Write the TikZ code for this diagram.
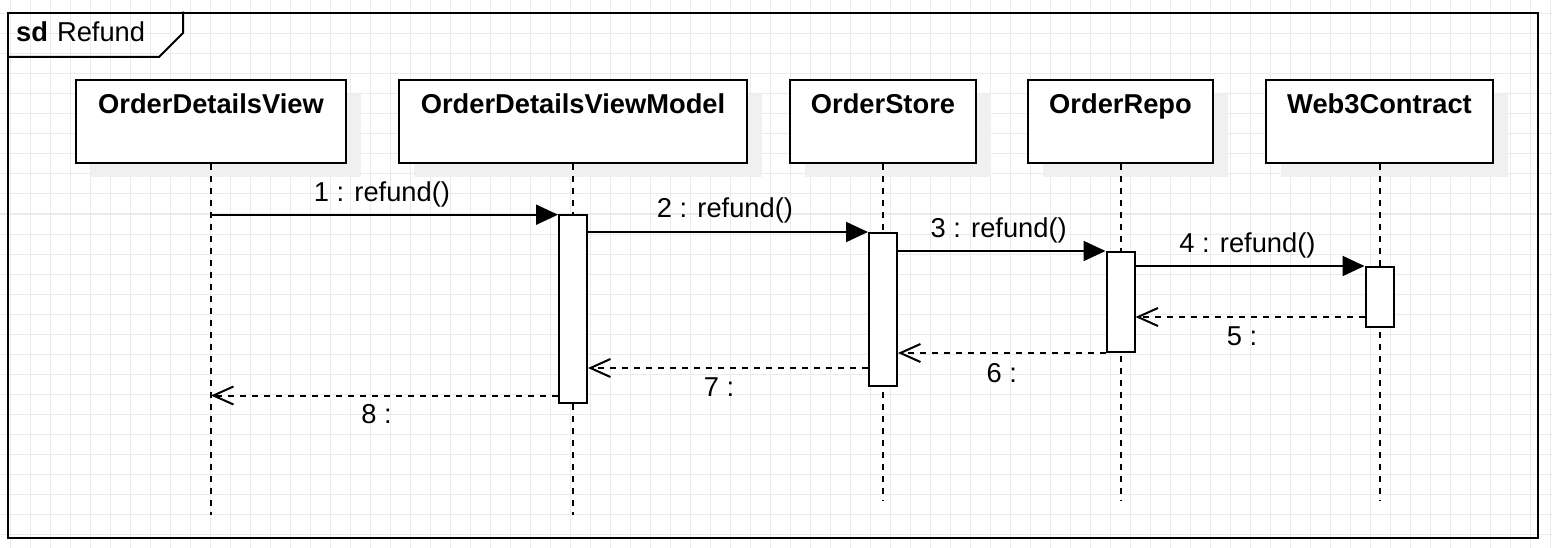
\documentclass[tikz,border=0pt]{standalone}
\usepackage{fontspec}
\setmainfont{Liberation Sans}
\usetikzlibrary{arrows.meta,shadows}
\definecolor{gridgray}{HTML}{EBEBEB}
\definecolor{shadowgray}{HTML}{F0F0F0}
\newcommand{\dfont}{\fontsize{27.3pt}{32pt}\selectfont}
\begin{document}
\begin{tikzpicture}[x=1pt,y=-1pt,
  gridline/.style={draw=gridgray, line width=1pt},
  frameline/.style={draw=black, line width=2.2pt},
  head/.style={draw=black, fill=white, line width=2pt, inner sep=0pt,
    minimum height=83pt, anchor=north west,
    drop shadow={shadow xshift=14.5pt, shadow yshift=-14.5pt, fill=shadowgray, opacity=1, draw=none}},
  headtext/.style={font=\dfont\bfseries, inner sep=0pt, anchor=base},
  act/.style={draw=black, fill=white, line width=2pt, minimum width=28pt, inner sep=0pt, anchor=north},
  lifeline/.style={draw=black, line width=2pt, dash pattern=on 6pt off 6pt},
  call/.style={draw=black, line width=2pt, -{Triangle[length=22pt, width=20pt]}},
  ret/.style={draw=black, line width=2pt, dash pattern=on 6pt off 6pt, -{Straight Barb[length=20pt, width=18pt]}},
  msg/.style={font=\dfont, inner sep=0pt, anchor=base}
]
\useasboundingbox (0,0) rectangle (1552,548);
\fill[white] (0,0) rectangle (1552,548);
% grid
\foreach \gx in {0,...,77} \draw[gridline] ({10.7+20*\gx},0) -- ({10.7+20*\gx},548);
\foreach \gy in {0,...,26} \draw[gridline] (0,{14+20*\gy}) -- (1552,{14+20*\gy});

% frame
\node[frameline, inner sep=0pt, anchor=north west, minimum width=1529.7pt, minimum height=525.3pt] (frame) at (7,11.7) {};
\coordinate (tabA) at (183,11.7);
\coordinate (tabB) at (183,33);
\coordinate (tabC) at (159,57);
\coordinate (tabD) at (7,57);
\draw[draw=black, line width=2pt, line join=miter] (tabA) -- (tabB) -- (tabC) -- (tabD);
\node[font=\dfont, inner sep=0pt, anchor=base west] (tabT) at (16,41.7) {\textbf{sd}\hspace{9pt}Refund};

% lifeline heads
\node[head, minimum width=270pt] (odv) at (75,79) {};
\node[head, minimum width=348pt] (odvm) at (398,79) {};
\node[head, minimum width=186pt] (os) at (789,79) {};
\node[head, minimum width=185pt] (orp) at (1027,79) {};
\node[head, minimum width=227pt] (w3) at (1265,79) {};

\node[headtext] (odvT) at (odv.north |- 0,113.3) {OrderDetailsView};
\node[headtext] (odvmT) at (odvm.north |- 0,113.3) {OrderDetailsViewModel};
\node[headtext] (osT) at (os.north |- 0,113.3) {OrderStore};
\node[headtext] (orpT) at (orp.north |- 0,113.3) {OrderRepo};
\node[headtext] (w3T) at (w3.north |- 0,113.3) {Web3Contract};

% lifelines
\coordinate (odvE) at (odv.south |- 0,515);
\coordinate (odvmE) at (odvm.south |- 0,515);
\coordinate (osE) at (os.south |- 0,501);
\coordinate (orpE) at (orp.south |- 0,501);
\coordinate (w3E) at (w3.south |- 0,501);
\draw[lifeline] (odv.south) -- (odvE);
\draw[lifeline] (odvm.south) -- (odvmE);
\draw[lifeline] (os.south) -- (osE);
\draw[lifeline] (orp.south) -- (orpE);
\draw[lifeline] (w3.south) -- (w3E);

% activations
\node[act, minimum height=188pt] (a2) at (odvm.south |- 0,214) {};
\node[act, minimum height=153pt] (a3) at (os.south |- 0,232) {};
\node[act, minimum height=100pt] (a4) at (orp.south |- 0,251) {};
\node[act, minimum height=60pt] (a5) at (w3.south |- 0,266) {};

% message levels
\coordinate (y1) at (0,214.7);
\coordinate (y5) at (0,317);
\coordinate (y7) at (0,368);
\coordinate (y8) at (0,395.5);

% calls
\draw[call] (odv.south |- y1) -- (a2.west |- y1)
  node[msg, midway, yshift=13.5pt, xshift=-2.5pt] (m1) {1 : refund()};
\draw[call] (a2.east |- a3.north) -- (a3.north west)
  node[msg, midway, yshift=14pt, xshift=-3pt] (m2) {2 : refund()};
\draw[call] (a3.east |- a4.north) -- (a4.north west)
  node[msg, midway, yshift=14pt, xshift=-3pt] (m3) {3 : refund()};
\draw[call] (a4.east |- a5.north) -- (a5.north west)
  node[msg, midway, yshift=13.5pt, xshift=-2.5pt] (m4) {4 : refund()};

% returns
\draw[ret] (a5.west |- y5) -- (a4.east |- y5)
  node[msg, midway, yshift=-28pt, xshift=-8pt] (m5) {5 :};
\draw[ret] (a4.south west) -- (a3.east |- a4.south)
  node[msg, midway, yshift=-29pt, xshift=0pt] (m6) {6 :};
\draw[ret] (a3.west |- y7) -- (a2.east |- y7)
  node[msg, midway, yshift=-28.7pt, xshift=-9pt] (m7) {7 :};
\draw[ret] (a2.west |- y8) -- (odv.south |- y8)
  node[msg, midway, yshift=-27.5pt, xshift=-8pt] (m8) {8 :};
\end{tikzpicture}
\end{document}
